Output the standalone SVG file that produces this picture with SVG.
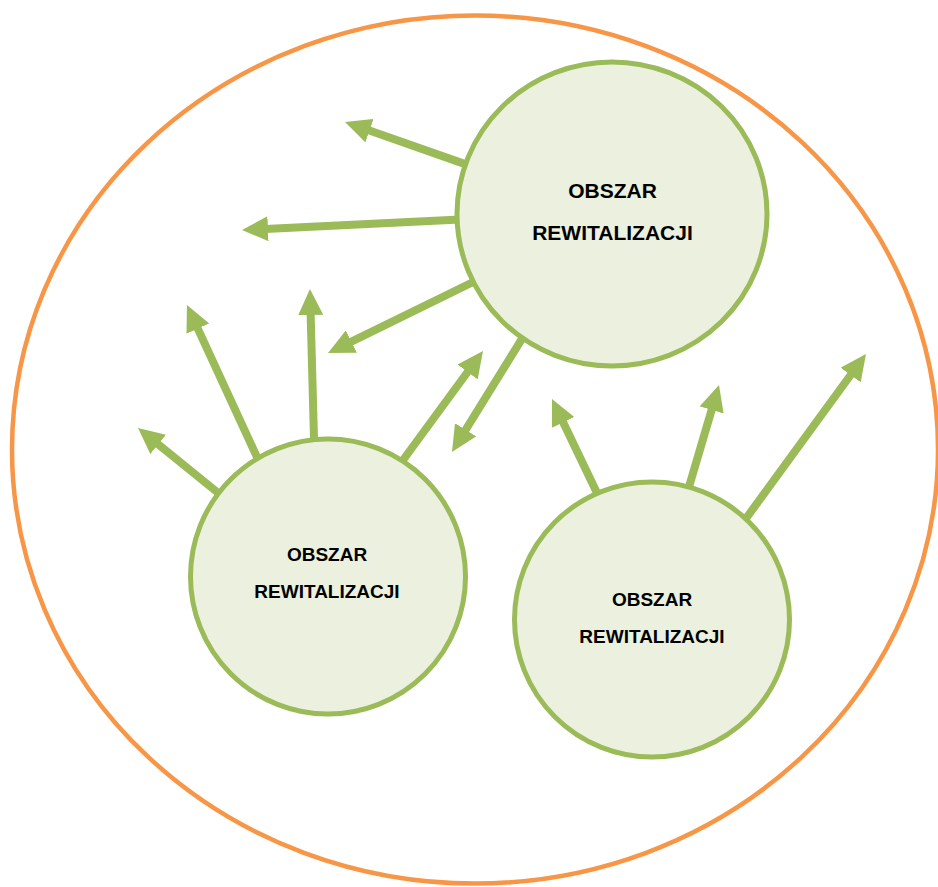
<svg xmlns="http://www.w3.org/2000/svg" width="938" height="887" viewBox="0 0 938 887">
<defs>
<marker id="ah" markerUnits="userSpaceOnUse" markerWidth="26" markerHeight="25" refX="13" refY="12.5" orient="auto" viewBox="0 0 26 25">
<path d="M0,0 L26,12.5 L0,25 z" fill="#9BBB59"/>
</marker>
<style>
.arr{stroke:#9BBB59;stroke-width:8;fill:none;marker-end:url(#ah)}
.node{fill:#EBF1DE;stroke:#9BBB59;stroke-width:5}
.lbl{font-family:"Liberation Sans",Arial,sans-serif;font-weight:bold;fill:#000;text-anchor:middle}
</style>
</defs>
<rect width="938" height="887" fill="#fff"/>
<ellipse id="outer" cx="475" cy="449.5" rx="463" ry="434" fill="none" stroke="#F79646" stroke-width="4.5"/>
<g id="connectors">
<line class="arr" x1="469.5" y1="165.6" x2="357.3" y2="126.3"/>
<line class="arr" x1="460" y1="219.6" x2="255" y2="229.4"/>
<line class="arr" x1="476.2" y1="280.5" x2="339.7" y2="347.3"/>
<line class="arr" x1="524.2" y1="335.2" x2="458.8" y2="440.9"/>
<line class="arr" x1="223.2" y1="497" x2="148.1" y2="436.2"/>
<line class="arr" x1="260.3" y1="464.3" x2="192.4" y2="316.8"/>
<line class="arr" x1="314.2" y1="446" x2="310.3" y2="302"/>
<line class="arr" x1="398.3" y1="466.5" x2="475.3" y2="361.5"/>
<line class="arr" x1="600.5" y1="500.2" x2="557.6" y2="410.7"/>
<line class="arr" x1="686.7" y1="494.7" x2="715.3" y2="397.5"/>
<line class="arr" x1="742.3" y1="523.5" x2="858.3" y2="364.5"/>
</g>
<g id="node-top">
<ellipse class="node" cx="612" cy="214" rx="155" ry="152"/>
<text class="lbl" x="612.5" y="198" font-size="21">OBSZAR</text>
<text class="lbl" x="612.5" y="240" font-size="21">REWITALIZACJI</text>
</g>
<g id="node-left">
<circle class="node" cx="328" cy="576.5" r="137.5"/>
<text class="lbl" x="327" y="561" font-size="19">OBSZAR</text>
<text class="lbl" x="327" y="598" font-size="19">REWITALIZACJI</text>
</g>
<g id="node-right">
<circle class="node" cx="652" cy="619.5" r="137.5"/>
<text class="lbl" x="652" y="606" font-size="19">OBSZAR</text>
<text class="lbl" x="652" y="643" font-size="19">REWITALIZACJI</text>
</g>
</svg>
